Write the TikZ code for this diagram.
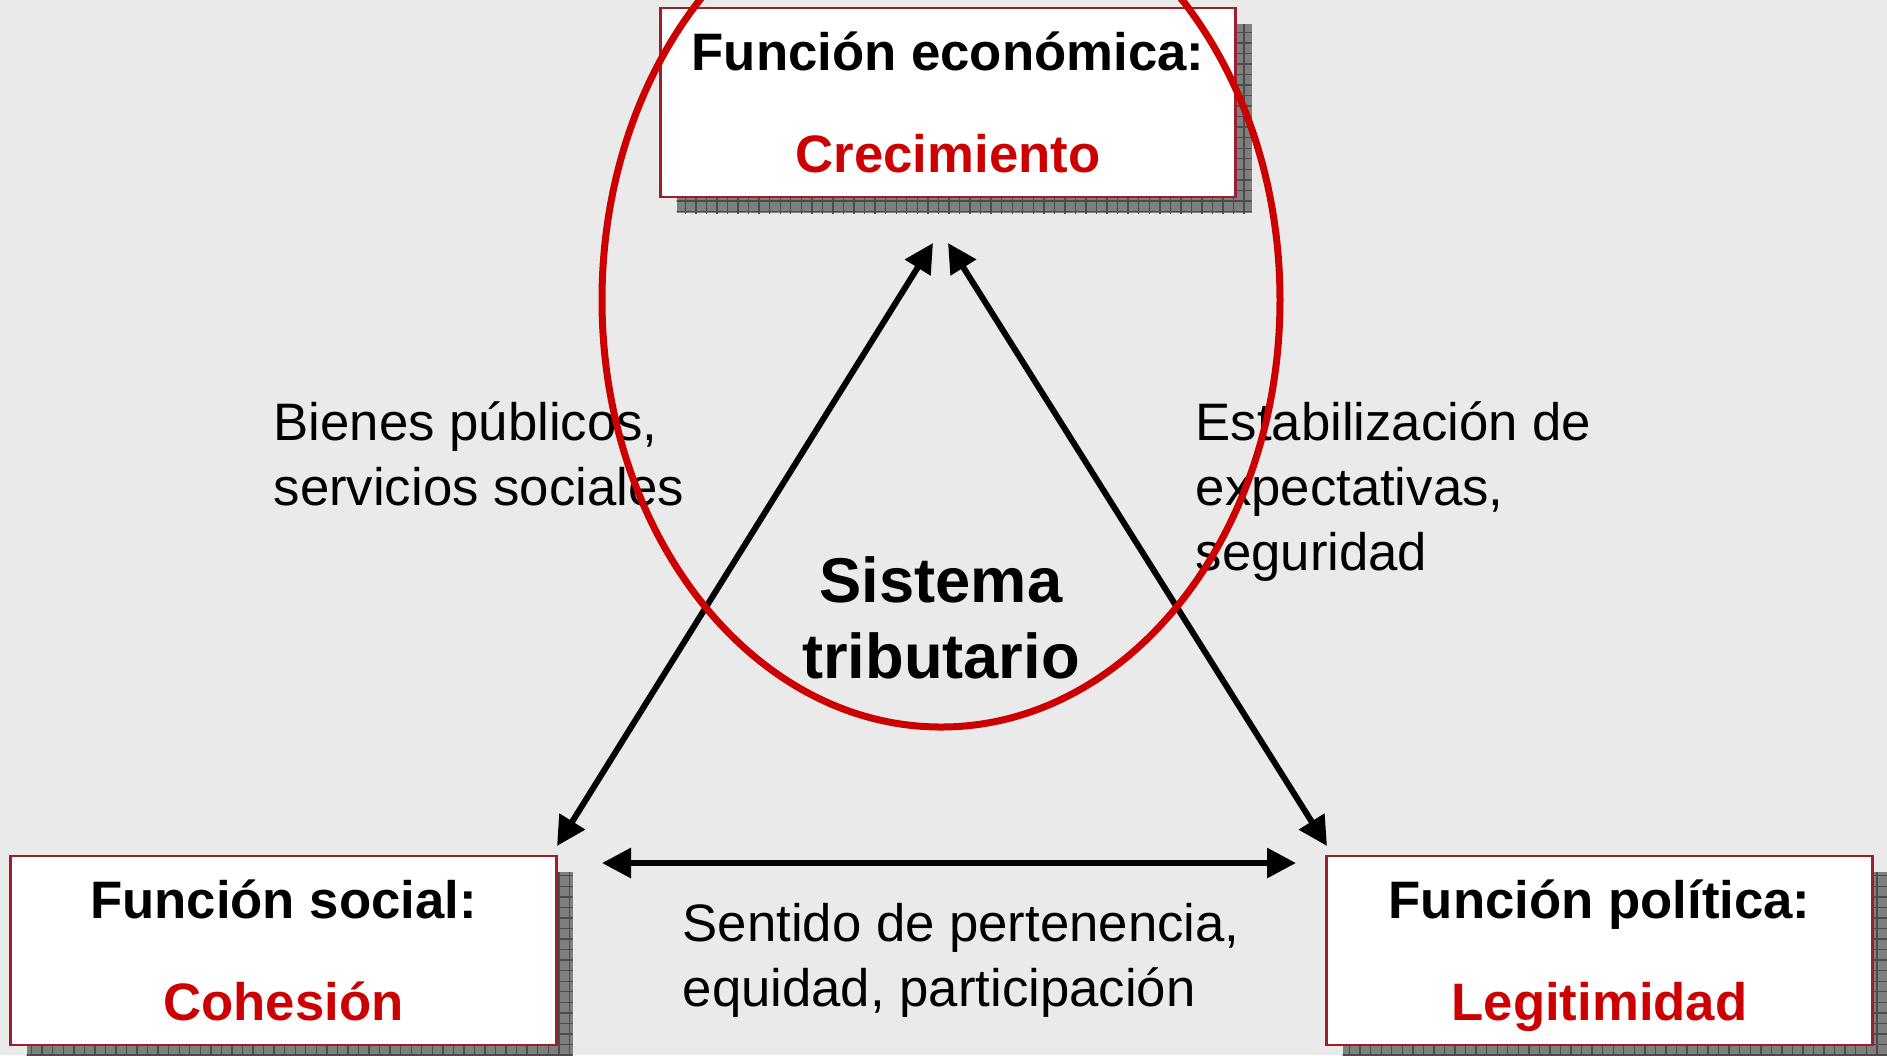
\documentclass[tikz,border=0pt]{standalone}
\usepackage{fontspec}
\setmainfont{Liberation Sans}
\usetikzlibrary{arrows.meta,shadows,patterns}
\definecolor{fondo}{HTML}{EAEAEA}
\definecolor{rojo}{HTML}{CC0000}
\definecolor{borde}{RGB}{158,30,45}
\definecolor{sombra}{HTML}{7F7F7F}

\begin{document}
\begin{tikzpicture}[
    funcion/.style={draw=borde, line width=0.8pt, fill=white, minimum width=5.46cm, minimum height=1.89cm,
        align=center, inner sep=0pt, font=\fontsize{15}{29}\selectfont\bfseries,
        drop shadow={shadow xshift=0.16cm, shadow yshift=-0.16cm, fill=sombra, opacity=1,
            postaction={pattern=grid, pattern color=black!70}}},
    etiqueta/.style={anchor=west, align=left, inner sep=0pt, font=\fontsize{15}{18.5}\selectfont},
    flecha/.style={{Triangle[length=0.29cm,width=0.29cm]}-{Triangle[length=0.29cm,width=0.29cm]}, line width=0.06cm}
]
    \clip (0,0) rectangle (18.87,-10.55);
    \fill[fondo] (0,0) rectangle (18.87,-10.55);

    % las tres funciones
    \node[funcion, minimum width=5.75cm] (eco) at (9.48,-1.025) {Función económica:\\\textcolor{rojo}{Crecimiento}};
    \node[funcion] (soc) at (2.835,-9.505) {Función social:\\\textcolor{rojo}{Cohesión}};
    \node[funcion] (pol) at (15.995,-9.505) {Función política:\\\textcolor{rojo}{\smash{Legitimidad}}};

    % extremos de las flechas
    \coordinate (ecoL) at (9.33,-2.43);
    \coordinate (ecoR) at (9.48,-2.43);
    \coordinate (socT) at (5.57,-8.46);
    \coordinate (polT) at (13.27,-8.46);
    \coordinate (socR) at (6.02,-8.63);
    \coordinate (polL) at (12.96,-8.63);

    \draw[flecha] (ecoL) -- (socT);
    \draw[flecha] (ecoR) -- (polT);
    \draw[flecha] (socR) -- (polL);

    \node[etiqueta] (bienes) at (2.73,-4.54) {Bienes públicos,\\servicios sociales};
    \node[etiqueta] (estab) at (11.95,-4.92) {Estabilización de\\expectativas,\\seguridad};
    \node[etiqueta] (sentido) at (6.82,-9.60) {Sentido de pertenencia,\\equidad, participación};
    \node[align=center, inner sep=0pt, font=\fontsize{18}{21.5}\selectfont\bfseries] (sistema) at (9.41,-6.18) {Sistema\\tributario};

    \draw[rojo, line width=0.07cm] (9.41,-3.00) ellipse [x radius=3.39, y radius=4.27];
\end{tikzpicture}
\end{document}
